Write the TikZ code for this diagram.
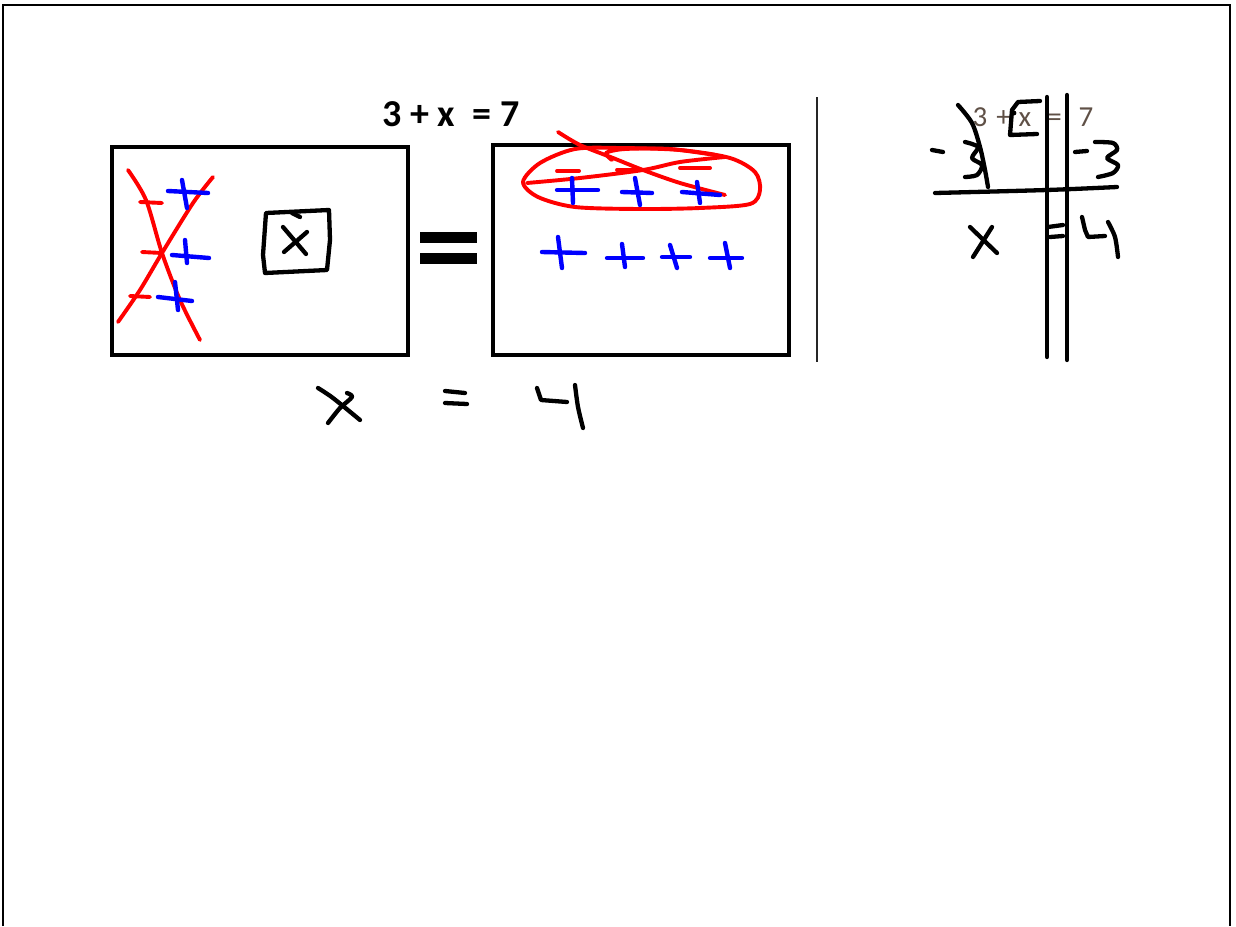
\documentclass[tikz,border=0pt]{standalone}
\usepackage{fontspec}
\setmainfont{Carlito}
\usepackage{tikz}
\definecolor{inkred}{RGB}{255,0,0}
\definecolor{inkblue}{RGB}{0,0,255}
\definecolor{printgray}{RGB}{95,80,70}

\begin{document}
\begin{tikzpicture}[x=1pt, y=-1pt,
        pen/.style = {draw, black, line width=4.3pt, line cap=round, line join=round},
        redpen/.style = {draw, inkred, line width=3.9pt, line cap=round, line join=round},
        bluepen/.style = {draw, inkblue, line width=4.4pt, line cap=round, line join=round},
        boxline/.style = {draw, black, line width=4.5pt},
        printed/.style = {inner sep=0pt, anchor=base}]
            \useasboundingbox (0,0) rectangle (1236,926);
            \draw[line width=2.5pt] (3,926) -- (3,5) -- (1230,5) -- (1230,926);

            \node[printed, font=\bfseries\fontsize{38}{42}\selectfont] (title) at (451,126) {3 + x~ = 7};
            \node[printed, font=\fontsize{29}{32}\selectfont, text=printgray] (rtitle) at (1033,126)
                {3\hspace{9pt}+\hspace{8pt}x\hspace{16pt}=\hspace{17pt}7};

            \draw[boxline] (112,147) rectangle (408,355);
            \draw[boxline] (493,145) rectangle (789,355);
            \fill (420,232) rectangle (477,243);
            \fill (420,253) rectangle (477,264);
            \draw[line width=2pt, black!85] (817,97) -- (817,362);

            \draw[redpen] plot[smooth] coordinates {(128,170) (146,200) (162,253) (180,300) (200,340)};
            \draw[redpen] plot[smooth] coordinates {(213,177) (193,203) (162,253) (140,290) (118,322)};
            \draw[redpen] (140,202) -- (162,203);
            \draw[redpen] (142,252) -- (162,253);
            \draw[redpen] (130,296) -- (150,297);
            \draw[bluepen] (168,191) -- (208,193);
            \draw[bluepen] (182,180) -- (187,208);
            \draw[bluepen] (172,255) -- (209,258);
            \draw[bluepen] (185,240) -- (187,263);
            \draw[bluepen] (158,297) -- (192,301);
            \draw[bluepen] (175,282) -- (178,310);

            \draw[pen] (266,213) -- (329,210) -- (330,240) -- (327,270) -- (265,273) -- (263,255) -- cycle;
            \draw[pen] (292,213) -- (300,217);
            \draw[pen] (283,227) -- (306,254);
            \draw[pen] (307,232) -- (284,252);

            \draw[redpen] plot[smooth cycle] coordinates {(523,182) (540,163) (575,149) (620,148) (680,150)
                (730,158) (755,172) (760,190) (750,204) (700,208) (640,209) (575,207) (538,197)};
            \draw[redpen] plot[smooth] coordinates {(612,160) (606,153) (625,149) (670,149) (715,155)};
            \draw[redpen] plot[smooth] coordinates {(558,132) (580,145) (613,158) (643,170) (680,183) (725,195)};
            \draw[redpen] plot[smooth] coordinates {(527,183) (580,178) (643,170) (680,162) (725,157)};
            \draw[redpen] (557,171) -- (579,171);
            \draw[redpen] (617,170) -- (640,170);
            \draw[redpen] (680,168) -- (710,168);

            \draw[bluepen] (557,190) -- (598,190);
            \draw[bluepen] (572,178) -- (573,203);
            \draw[bluepen] (622,192) -- (652,193);
            \draw[bluepen] (635,178) -- (640,205);
            \draw[bluepen] (682,192) -- (720,195);
            \draw[bluepen] (697,182) -- (700,203);
            \draw[bluepen] (542,252) -- (585,253);
            \draw[bluepen] (558,237) -- (562,268);
            \draw[bluepen] (607,258) -- (643,258);
            \draw[bluepen] (622,244) -- (625,267);
            \draw[bluepen] (662,257) -- (690,257);
            \draw[bluepen] (670,245) -- (677,268);
            \draw[bluepen] (710,258) -- (742,258);
            \draw[bluepen] (725,243) -- (730,268);

            \draw[pen] plot[smooth] coordinates {(318,388) (333,398) (360,420)};
            \draw[pen] plot[smooth] coordinates {(347,393) (352,397) (340,408) (328,423)};
            \draw[pen] (445,391) -- (465,393);
            \draw[pen] (445,403) -- (467,404);
            \draw[pen] (537,388) -- (541,400) -- (567,402);
            \draw[pen] plot[smooth] coordinates {(575,385) (578,407) (583,428)};

            \draw[pen] (1047,97) -- (1047,357);
            \draw[pen] (1067,95) -- (1067,360);
            \draw[pen] plot[smooth] coordinates {(935,193) (1047,190) (1117,187)};
            \draw[pen] plot[smooth] coordinates {(958,105) (972,123) (980,147) (985,170) (988,187)};
            \draw[pen] (932,150) -- (943,152);
            \draw[pen] plot[smooth] coordinates {(965,142) (978,147) (972,158) (982,165) (977,175) (965,177)};
            \draw[pen] (1040,101) -- (1018,102) -- (1012,110) -- (1010,135) -- (1037,134);
            \fill (1014,113) circle (2.4pt);
            \draw[pen] (1075,152) -- (1087,151);
            \draw[pen] plot[smooth] coordinates {(1095,142) (1113,143) (1117,150) (1107,158) (1118,165) (1113,173) (1098,177)};
            \draw[pen] (970,227) -- (997,253);
            \draw[pen] (992,227) -- (973,257);
            \draw[pen] (1048,227) -- (1063,225);
            \draw[pen] (1050,237) -- (1063,236);
            \draw[pen] (1082,217) -- (1085,230) -- (1088,237) -- (1105,236);
            \draw[pen] plot[smooth] coordinates {(1108,222) (1115,237) (1118,257)};

        \end{tikzpicture}
\end{document}
